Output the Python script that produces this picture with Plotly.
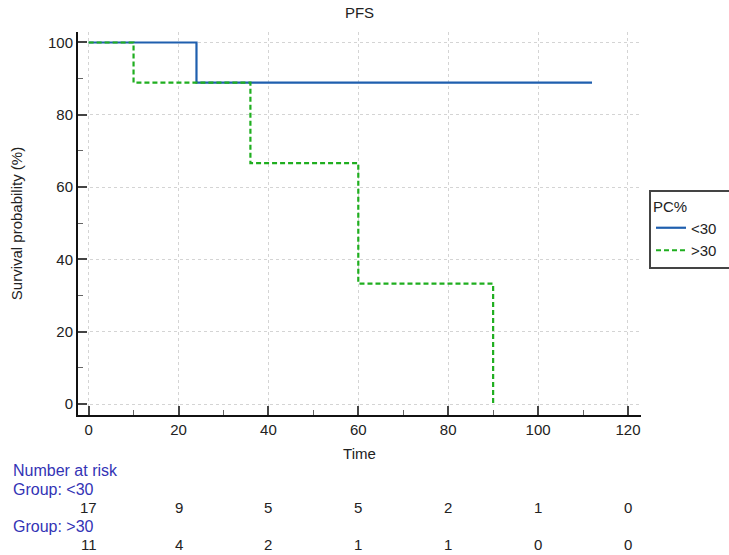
import plotly.graph_objects as go

# Kaplan-Meier step data (survival in %)
times_lt30 = [0, 24, 112]
surv_lt30 = [100, 88.89, 88.89]
times_gt30 = [0, 10, 36, 60, 90]
surv_gt30 = [100, 88.89, 66.67, 33.33, 0]

# Number-at-risk table
risk_times = [0, 20, 40, 60, 80, 100, 120]
risk_lt30 = [17, 9, 5, 5, 2, 1, 0]
risk_gt30 = [11, 4, 2, 1, 1, 0, 0]

FONT = "Liberation Sans, Arial, sans-serif"
BLUE = "#1f5fae"
GREEN = "#1fae1f"
RISK_BLUE = "#3333b5"
TXT = "#222"

W, H = 729, 555
ML, MR, MT, MB = 78, 88, 32, 140
plot_w = W - ML - MR
plot_h = H - MT - MB


def ypaper(px):
    return (H - MB - px) / plot_h


def xpaper(px):
    return (px - ML) / plot_w


fig = go.Figure()
fig.add_trace(go.Scatter(
    x=times_lt30, y=surv_lt30, mode="lines", name="<30  ",
    line=dict(color=BLUE, width=2.2, shape="hv"),
))
fig.add_trace(go.Scatter(
    x=times_gt30, y=surv_gt30, mode="lines", name=">30  ",
    line=dict(color=GREEN, width=2.2, shape="hv", dash="5px,3px"),
))

ann = []
for label, ypx in [("Number at risk", 470), ("Group: <30", 489), ("Group: >30", 526)]:
    ann.append(dict(text=label, x=xpaper(11), xref="paper", xanchor="left",
                    y=ypaper(ypx), yref="paper", yanchor="middle", showarrow=False,
                    font=dict(family=FONT, size=16, color=RISK_BLUE)))
for t, n in zip(risk_times, risk_lt30):
    ann.append(dict(text=str(n), x=t, xref="x", xanchor="center",
                    y=ypaper(507), yref="paper", yanchor="middle", showarrow=False,
                    font=dict(family=FONT, size=15, color=TXT)))
for t, n in zip(risk_times, risk_gt30):
    ann.append(dict(text=str(n), x=t, xref="x", xanchor="center",
                    y=ypaper(544), yref="paper", yanchor="middle", showarrow=False,
                    font=dict(family=FONT, size=15, color=TXT)))

axis_common = dict(
    showline=True, linecolor="#111", linewidth=2,
    ticks="inside", tickcolor="#444", tickwidth=2, ticklen=9,
    showgrid=True, gridcolor="#d4d4d4", griddash="dot", gridwidth=1,
    zeroline=False, automargin=False,
    tickfont=dict(family=FONT, size=15, color=TXT),
    minor=dict(ticks="inside", ticklen=5, tickcolor="#666", tickwidth=1, dtick=10, showgrid=False),
)

fig.update_layout(
    width=W, height=H,
    margin=dict(l=ML, r=MR, t=MT, b=MB),
    paper_bgcolor="white", plot_bgcolor="white",
    font=dict(family=FONT, size=15, color=TXT),
    title=dict(text="PFS", x=(ML + (W - MR)) / 2 / W, xanchor="center",
               y=1 - 13 / H, yanchor="middle", yref="container",
               font=dict(family=FONT, size=15, color=TXT)),
    xaxis=dict(range=[-2.36, 122.9], tickvals=risk_times, autorange=False,
               title=dict(text="Time", standoff=11, font=dict(family=FONT, size=15, color=TXT)),
               **axis_common),
    yaxis=dict(range=[-3.0, 102.9], tickvals=[0, 20, 40, 60, 80, 100], autorange=False,
               title=dict(text="Survival probability (%)", standoff=22,
                          font=dict(family=FONT, size=15, color=TXT)),
               **axis_common),
    legend=dict(x=649 / W, xref="container", xanchor="left",
                y=1 - 190 / H, yref="container", yanchor="top",
                bordercolor="#444", borderwidth=2, bgcolor="white",
                title=dict(text="PC%", side="top", font=dict(family=FONT, size=15, color=TXT)),
                font=dict(family=FONT, size=15, color=TXT),
                itemwidth=30, tracegroupgap=0),
    annotations=ann,
    showlegend=True,
)

fig.write_html("out.html")
